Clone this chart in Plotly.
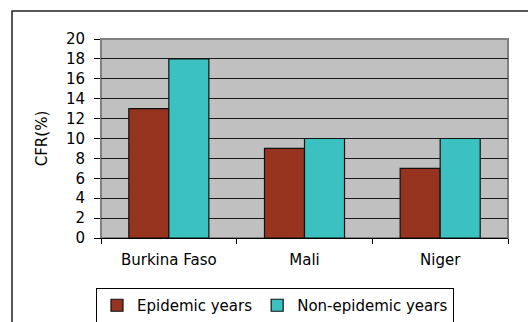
import plotly.graph_objects as go

countries = ["Burkina Faso", "Mali", "Niger"]
epidemic = [13, 9, 7]
non_epidemic = [18, 10, 10]
y_ticks = list(range(0, 21, 2))

FONT = "DejaVu Sans"
W, H = 528, 322
L, R, T, B = 101, 20, 39, 84
pw, ph = W - L - R, H - T - B

def px_x(x):
    return (x - L) / pw

def px_y(y):
    return (H - B - y) / ph

fig = go.Figure()
fig.add_bar(x=countries, y=epidemic, name="Epidemic years",
            marker=dict(color="#96341F", line=dict(color="#111111", width=1.2)))
fig.add_bar(x=countries, y=non_epidemic, name="Non-epidemic years",
            marker=dict(color="#3CC1C1", line=dict(color="#111111", width=1.2)))

fig.update_layout(
    width=W, height=H,
    margin=dict(l=L, r=R, t=T, b=B, autoexpand=False),
    paper_bgcolor="white",
    plot_bgcolor="#C0C0C0",
    barmode="group",
    bargap=0.41,
    bargroupgap=0,
    font=dict(family=FONT, size=15, color="black"),
    showlegend=True,
    legend=dict(orientation="h", x=px_x(275), xanchor="center",
                y=px_y(288), yanchor="top",
                bordercolor="black", borderwidth=1, bgcolor="white",
                font=dict(family=FONT, size=15, color="black"),
                itemwidth=30, tracegroupgap=0),
    shapes=[
        dict(type="rect", xref="paper", yref="paper",
             x0=0, x1=1, y0=0, y1=1,
             line=dict(color="#808080", width=2), layer="below"),
        dict(type="rect", xref="paper", yref="paper",
             x0=px_x(12), x1=px_x(540), y0=px_y(335), y1=px_y(11),
             line=dict(color="#222222", width=1.5), layer="above"),
    ],
)

fig.update_xaxes(
    showline=True, linecolor="black", linewidth=1,
    ticks="outside", tickson="boundaries", ticklen=5, tickcolor="black",
    ticklabelstandoff=8, showgrid=False,
)
fig.update_yaxes(
    range=[0, 20], tickvals=y_ticks, ticktext=[str(v) for v in y_ticks],
    showgrid=True, gridcolor="#1a1a1a", gridwidth=1,
    showline=True, linecolor="#808080", linewidth=1,
    ticks="outside", ticklen=6, tickcolor="black", ticklabelstandoff=6,
    zeroline=False,
    title=dict(text="CFR(%)", standoff=14, font=dict(family=FONT, size=15)),
)

fig.write_html("out.html")
